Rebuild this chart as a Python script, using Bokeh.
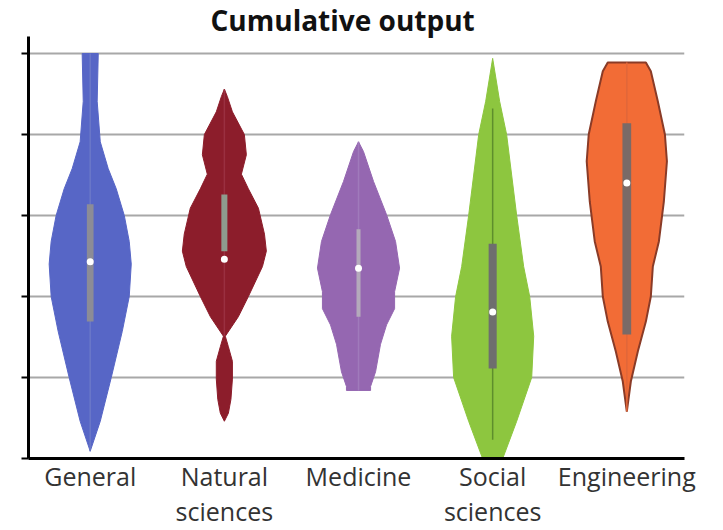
from bokeh.plotting import figure
from bokeh.models import Range1d, FixedTicker
from bokeh.embed import file_html
from bokeh.resources import INLINE

# ---- data ----
categories = ["General", "Natural\nsciences", "Medicine", "Social\nsciences", "Engineering"]
colors = ["#5766C6", "#8C1D2B", "#9567B1", "#8DC63F", "#F26C36"]

# violin outlines: value levels and half-widths (category units)
general_levels = [5.0, 4.41, 3.91, 3.58, 3.33, 3.0, 2.68, 2.40, 2.0, 1.57, 1.0, 0.46, 0.09]
general_widths = [0.06, 0.052, 0.075, 0.134, 0.194, 0.254, 0.291, 0.306, 0.291, 0.239, 0.157, 0.075, 0.0]

natural_levels = [4.56, 4.47, 4.28, 4.0, 3.75, 3.51, 3.33, 3.09, 2.77, 2.56, 2.37, 2.0, 1.75, 1.51,
                  1.38, 1.2, 0.98, 0.73, 0.56, 0.46]
natural_widths = [0.0, 0.022, 0.06, 0.149, 0.164, 0.127, 0.179, 0.254, 0.299, 0.313, 0.284, 0.179, 0.104,
                  0.007, 0.03, 0.06, 0.06, 0.049, 0.03, 0.0]

medicine_levels = [3.91, 3.79, 3.42, 3.01, 2.68, 2.35, 2.06, 1.85, 1.65, 1.41, 1.07, 0.89, 0.84]
medicine_widths = [0.0, 0.037, 0.112, 0.209, 0.276, 0.306, 0.269, 0.269, 0.209, 0.164, 0.127, 0.09, 0.09]

social_levels = [4.94, 4.41, 4.0, 3.0, 2.37, 2.0, 1.51, 1.0, 0.46, 0.0]
social_widths = [0.0, 0.052, 0.104, 0.179, 0.231, 0.276, 0.306, 0.291, 0.179, 0.075]

engineering_levels = [4.89, 4.78, 4.41, 4.0, 3.67, 3.17, 2.68, 2.37, 2.0, 1.69, 1.32, 0.95, 0.58]
engineering_widths = [0.142, 0.179, 0.231, 0.284, 0.299, 0.276, 0.239, 0.194, 0.179, 0.142, 0.082, 0.03, 0.0]

# box statistics
q1 = [1.69, 2.56, 1.75, 1.11, 1.53]
q3 = [3.14, 3.26, 2.83, 2.65, 4.14]
medians = [2.43, 2.46, 2.35, 1.81, 3.40]
whisker_low = [0.09, 1.51, 0.84, 0.23, 0.58]
whisker_high = [5.0, 4.56, 3.91, 4.32, 4.89]

grid_values = [1, 2, 3, 4, 5]

# ---- styling ----
box_colors = ["#8c8c96", "#8e9c8e", "#b4aabb", "#6e6e6e", "#7a6a67"]
box_widths = [0.05, 0.045, 0.03, 0.06, 0.065]
whisker_colors = ["#6a78c8", "#9a3040", "#a07abb", "#5e8e2c", "#e0673a"]
outline_colors = [None, None, None, None, "#8a3b27"]

profiles = [
    (general_levels, general_widths),
    (natural_levels, natural_widths),
    (medicine_levels, medicine_widths),
    (social_levels, social_widths),
    (engineering_levels, engineering_widths),
]

p = figure(
    frame_width=656, frame_height=422,
    x_range=Range1d(-0.46, 4.43), y_range=Range1d(0, 5.21),
    output_backend="svg", toolbar_location=None,
    min_border_left=28, min_border_right=20, min_border_top=0, min_border_bottom=0,
    title="Cumulative output",
)
p.outline_line_color = None
p.background_fill_color = "white"

p.title.align = "left"
p.title.offset = 182
p.title.text_font = "Open Sans"
p.title.text_font_style = "bold"
p.title.text_font_size = "28px"
p.title.text_color = "#111111"
p.title.standoff = -4

# grid
p.xgrid.visible = False
p.ygrid.ticker = FixedTicker(ticks=grid_values)
p.ygrid.grid_line_color = "#a8a8a8"
p.ygrid.grid_line_width = 2

# y axis (ticks only, no labels)
ytick_values = [0] + grid_values
p.yaxis.ticker = FixedTicker(ticks=ytick_values)
p.yaxis.major_label_overrides = {t: "" for t in ytick_values}
p.yaxis.major_label_standoff = 0
p.yaxis.major_tick_in = 0
p.yaxis.major_tick_out = 7
p.yaxis.major_tick_line_width = 2
p.yaxis.minor_tick_line_color = None
p.yaxis.axis_line_width = 3
p.yaxis.axis_line_color = "black"
p.yaxis.major_tick_line_color = "black"

# x axis
p.xaxis.ticker = FixedTicker(ticks=list(range(len(categories))))
p.xaxis.major_label_overrides = {i: c for i, c in enumerate(categories)}
p.xaxis.major_tick_in = 0
p.xaxis.major_tick_out = 0
p.xaxis.minor_tick_line_color = None
p.xaxis.axis_line_width = 3
p.xaxis.axis_line_color = "black"
p.xaxis.major_label_text_font = "Open Sans"
p.xaxis.major_label_text_font_size = "25px"
p.xaxis.major_label_text_color = "#333333"
p.xaxis.major_label_standoff = 0
p.xaxis.major_label_text_line_height = 1.05

# violins
xs, ys = [], []
for i, (lv, wd) in enumerate(profiles):
    xs.append([i + w for w in wd] + [i - w for w in reversed(wd)])
    ys.append(list(lv) + list(reversed(lv)))
for i in range(len(categories)):
    oc = outline_colors[i]
    p.patch(xs[i], ys[i], fill_color=colors[i], line_color=oc if oc else colors[i],
            line_width=2 if oc else 1)

# whiskers
xpos = list(range(len(categories)))
p.segment(x0=xpos, y0=whisker_low, x1=xpos, y1=whisker_high, line_color=whisker_colors, line_width=1.5)
# boxes
p.vbar(x=xpos, width=box_widths, bottom=q1, top=q3, fill_color=box_colors, line_color=None)
# medians
p.scatter(x=xpos, y=medians, marker="circle", size=7, fill_color="white", line_color=None)

open("out.html", "w").write(file_html(p, INLINE))
